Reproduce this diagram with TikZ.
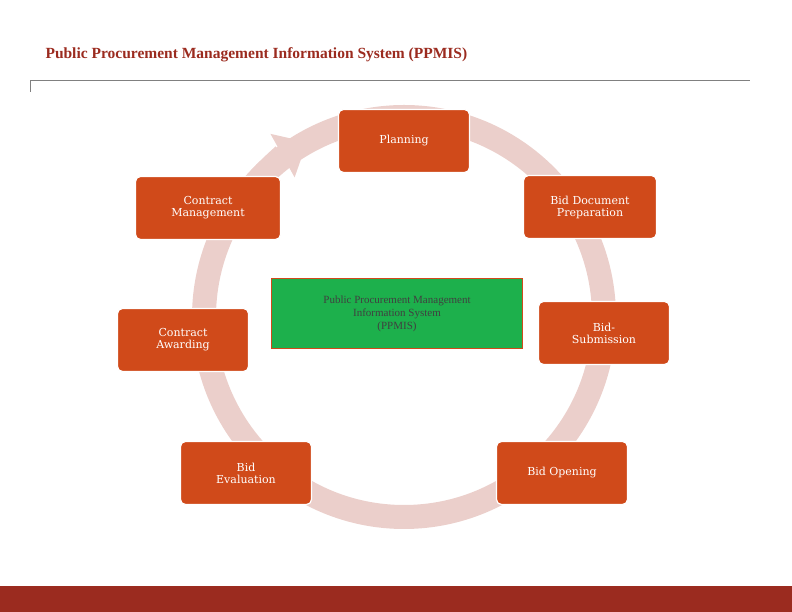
\documentclass[tikz,border=0pt]{standalone}
\usepackage{fontspec}
\setmainfont{Liberation Serif}
\newfontfamily\boxfont{DejaVu Serif}
\usetikzlibrary{arrows.meta}
\definecolor{brick}{HTML}{D04A1A}
\definecolor{darkbrick}{HTML}{9B2B1F}
\definecolor{ringpink}{HTML}{EBCFCB}
\definecolor{pgreen}{HTML}{1DB04C}
\begin{document}
\begin{tikzpicture}[x=1pt,y=1pt,
  stage/.style={draw=white,line width=1.2pt,fill=brick,rounded corners=5pt,
    minimum width=131pt,minimum height=63pt,align=center,text=white,
    font=\boxfont\fontsize{11}{12}\selectfont},
  ring/.style={draw=ringpink,line width=24pt}]
  \useasboundingbox (0,0) rectangle (792,612);
  % title and rule
  \node[anchor=west,text=darkbrick,font=\bfseries\fontsize{15.5}{18}\selectfont] (title) at (42,557) {Public Procurement Management Information System (PPMIS)};
  \draw[gray,line width=0.8pt] (30,520) -- (30,532) -- (750,532);
  \fill[darkbrick] (0,0) rectangle (792,26);
  % cycle ring
  \coordinate (hub) at (404,295);
  \draw[ring] (hub) circle[radius=200];
  \draw[ring,line width=24pt,-{Triangle[length=28pt,width=48pt]}] (hub) ++(140:200) arc[start angle=140,end angle=119,radius=200];
  % stages
  \node[stage] (plan) at (404,471) {Planning};
  \node[stage,minimum width=133pt] (prep) at (590,405) {Bid Document\\Preparation};
  \node[stage] (subm) at (604,279) {Bid-\\Submission};
  \node[stage] (open) at (562,139) {Bid Opening};
  \node[stage] (eval) at (246,139) {Bid\\Evaluation};
  \node[stage] (award) at (183,272) {Contract\\Awarding};
  \node[stage,minimum width=145pt] (manage) at (208,404) {Contract\\Management};
  % centre
  \node[draw=brick,line width=1.2pt,fill=pgreen,minimum width=251pt,minimum height=70pt,
    text=black!75,align=center,font=\fontsize{11}{13}\selectfont,anchor=north] (ppmis) at (397,334)
    {Public Procurement Management\\Information System\\(PPMIS)};
\end{tikzpicture}
\end{document}
